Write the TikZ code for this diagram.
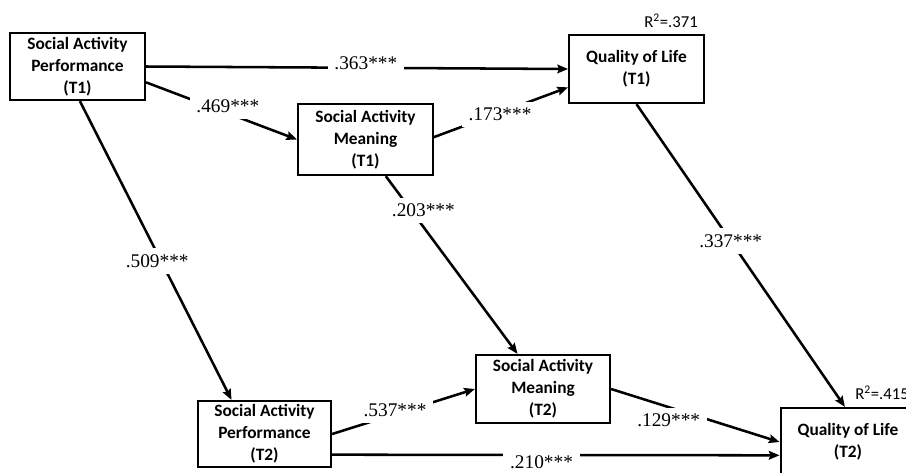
\documentclass[tikz,border=0pt]{standalone}
\usepackage{fontspec}
\setmainfont{Liberation Serif}
\newfontfamily\boxfont{Carlito}
\usetikzlibrary{arrows.meta}
\begin{document}
\begin{tikzpicture}[x=0.75pt,y=-0.75pt,
  box/.style={draw, line width=1.7pt, align=center, inner sep=1pt,
    font=\boxfont\bfseries\fontsize{13}{16.5}\selectfont,
    minimum width=101pt, minimum height=51pt},
  conn/.style={line width=1.9pt, -{Stealth[length=8pt,width=6.5pt,inset=1.2pt]}},
  lbl/.style={fill=white, inner xsep=5pt, inner ysep=4.5pt,
    font=\fontsize{14.5}{16}\selectfont},
  rsq/.style={inner sep=0pt, font=\boxfont\fontsize{12.5}{14}\selectfont}]
\useasboundingbox (0,0) rectangle (906,472);
\clip (0,0) rectangle (906,472);

% boxes
\node[box, minimum height=50.25pt] (sap1) at (77.5,66.5) {Social Activity\\Performance\\(T1)};
\node[box, minimum height=53.25pt] (sam1) at (365.5,139.5) {Social Activity\\Meaning\\(T1)};
\node[box] (qol1) at (636.5,69) {Quality of Life\\(T1)};
\node[box, minimum width=99.75pt, minimum height=49.5pt] (sap2) at (264.5,434) {Social Activity\\Performance\\(T2)};
\node[box, minimum width=100.5pt] (sam2) at (543,389) {Social Activity\\Meaning\\(T2)};
\node[box] (qol2) at (848,442) {Quality of Life\\(T2)};

% R squared
\node[rsq] (r1) at (671,20.5) {R\textsuperscript{2}=.371};
\node[rsq, anchor=west] (r2) at (855,392.5) {R\textsuperscript{2}=.415};

% paths
\draw[conn] (sap1.east) -- node[lbl, pos=0.521, yshift=3.2pt] (l1) {.363***} (qol1.west);
\draw[conn] (sap1.-13) -- node[lbl, pos=0.542, yshift=5.3pt] (l2) {.469***} (sam1.west);
\draw[conn] (sam1.2) -- node[lbl, pos=0.493, yshift=-1.5pt] (l3) {.173***} (qol1.-165);
\draw[conn] (sap1.-86) -- node[lbl, pos=0.535, xshift=-2.9pt] (l4) {.509***} (sap2.134);
\draw[conn] (sam1.-61) -- node[lbl, pos=0.194, xshift=9pt] (l5) {.203***} (sam2.126);
\draw[conn] (qol1.south) -- node[lbl, pos=0.452] (l6) {.337***} (qol2.95);
\draw[conn] (sap2.east) -- node[lbl, pos=0.441, yshift=3pt] (l7) {.537***} (sam2.west);
\draw[conn] (sam2.east) -- node[lbl, pos=0.342, yshift=-9.7pt] (l8) {.129***} (qol2.west);
\draw[conn] (sap2.-17) -- node[lbl, pos=0.468, anchor=base, inner ysep=1pt, text height=13pt, text depth=0pt, yshift=-10pt] (l9) {.210***} (qol2.191);
\end{tikzpicture}
\end{document}
